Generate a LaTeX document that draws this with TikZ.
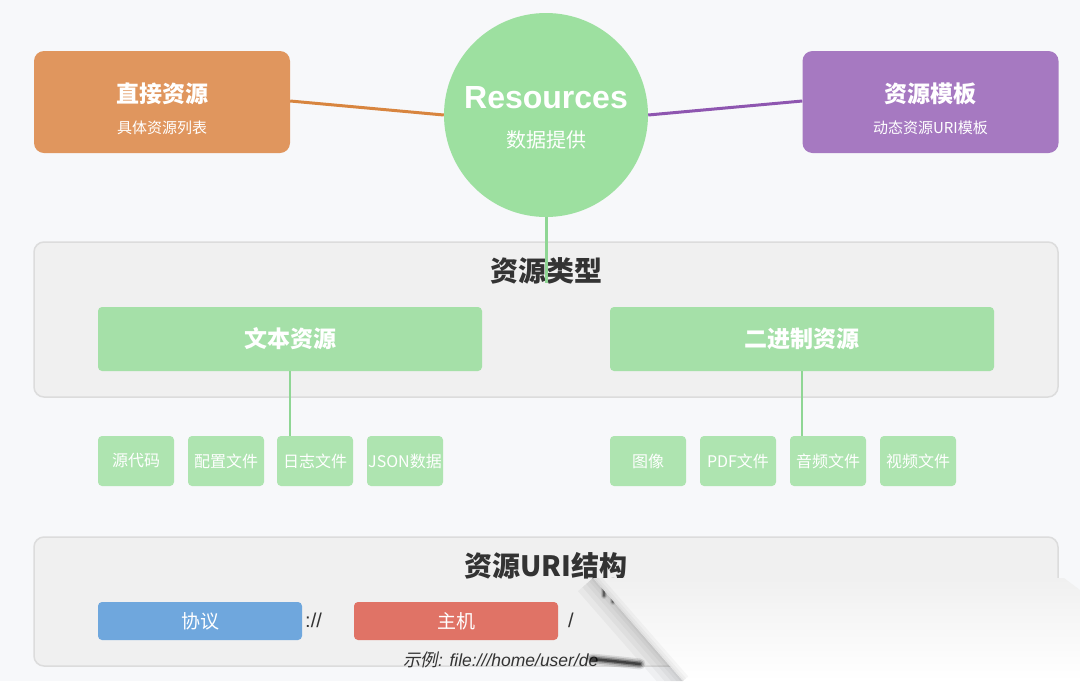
\documentclass[tikz,border=0pt]{standalone}
\usepackage{fontspec}
\setmainfont{Noto Sans CJK SC}
\newfontfamily\lat{Liberation Sans}
\newfontfamily\cjkit[FakeSlant=0.2]{Noto Sans CJK SC}
\usetikzlibrary{calc}
\definecolor{bg}{HTML}{F7F8FA}
\definecolor{orangebox}{HTML}{E0965E}
\definecolor{orangeline}{HTML}{D8853F}
\definecolor{purplebox}{HTML}{A679C1}
\definecolor{purpleline}{HTML}{8E56B0}
\definecolor{circgreen}{HTML}{9DE0A0}
\definecolor{midgreen}{HTML}{A5E0A8}
\definecolor{smallgreen}{HTML}{AEE4B0}
\definecolor{greenline}{HTML}{8FD694}
\definecolor{panelfill}{HTML}{F0F0F0}
\definecolor{panelline}{HTML}{DCDCDC}
\definecolor{darktext}{HTML}{333333}
\definecolor{bluebox}{HTML}{6FA7DD}
\definecolor{redbox}{HTML}{E07366}
\tikzset{
  topbox/.style={rounded corners=10pt, minimum width=256pt, minimum height=102pt, inner sep=0pt},
  panelbox/.style={rounded corners=10pt, fill=panelfill, draw=panelline, line width=1.5pt},
  typebox/.style={fill=midgreen, rounded corners=4pt, minimum width=384pt, minimum height=64pt, inner sep=0pt, text=white, font=\bfseries\fontsize{23}{27}\selectfont},
  itembox/.style={fill=smallgreen, rounded corners=4pt, minimum width=76pt, minimum height=50pt, inner sep=0pt, text=white, font=\fontsize{16}{19}\selectfont},
  uribox/.style={rounded corners=4pt, minimum width=204pt, minimum height=38pt, inner sep=0pt, text=white, font=\fontsize{19}{22}\selectfont},
  title/.style={text=white, font=\bfseries\fontsize{23}{27}\selectfont},
  subtitle/.style={text=white, font=\fontsize{15}{18}\selectfont},
  ptitle/.style={text=darktext, font=\bfseries\fontsize{28}{32}\selectfont},
  link/.style={line width=3pt}
}
\begin{document}
\begin{tikzpicture}[x=1pt,y=-1pt]
\fill[bg] (0,0) rectangle (1080,681);
\useasboundingbox (0,0) rectangle (1080,681);

% panels
\draw[panelbox] (34,242) rectangle (1058,397);
\draw[panelbox] (34,537) rectangle (1058,666);

% top boxes
\node[topbox, fill=orangebox] (direct) at (162,102) {};
\node[title] at (162,94) {直接资源};
\node[subtitle] at (162,128) {具体资源列表};
\node[topbox, fill=purplebox] (tmpl) at (930.5,102) {};
\node[title] at (930.5,94) {资源模板};
\node[subtitle] at (930.5,128) {动态资源URI模板};

% circle
\node[circle, fill=circgreen, minimum size=204pt, inner sep=0pt] (res) at (546,115) {};
\node[text=white, font=\lat\bfseries\fontsize{32}{36}\selectfont] at (546,98) {Resources};
\node[text=white, font=\fontsize{20}{24}\selectfont] at (546,140) {数据提供};

\draw[link, orangeline] (direct.east |- 0,101) -- (res.west);
\draw[link, purpleline] (res.east) -- (tmpl.west |- 0,101);

% panel 1
\node[ptitle] (pt1) at (546,271) {资源类型};
\coordinate (resend) at (546,283);
\draw[line width=3pt, greenline] (res.south) -- (resend);

\node[typebox] (text) at (290,339) {文本资源};
\node[typebox] (bin) at (802,339) {二进制资源};

\node[itembox] (t1) at (136,461) {源代码};
\node[itembox] (t2) at (226,461) {配置文件};
\node[itembox] (t3) at (315,461) {日志文件};
\node[itembox] (t4) at (405,461) {JSON数据};
\node[itembox] (b1) at (648,461) {图像};
\node[itembox] (b2) at (738,461) {PDF文件};
\node[itembox] (b3) at (828,461) {音频文件};
\node[itembox] (b4) at (918,461) {视频文件};

\draw[line width=2pt, greenline] (text.south) -- (text.south |- t3.north);
\draw[line width=2pt, greenline] (bin.south) -- (bin.south |- b3.north);

% panel 2
\node[ptitle] (pt2) at (546,566) {资源URI结构};
\node[uribox, fill=bluebox] (proto) at (200,621) {协议};
\node[text=darktext, font=\lat\fontsize{20}{24}\selectfont, anchor=west, inner sep=0pt] (sep1) at (305,620) {://};
\node[uribox, fill=redbox] (host) at (456,621) {主机};
\node[text=darktext, font=\lat\fontsize{20}{24}\selectfont, anchor=west, inner sep=0pt] (sep2) at (568,620) {/};
\node[text=darktext, anchor=west, inner sep=0pt] (ex) at (403,660) {{\cjkit\fontsize{17.5}{20}\selectfont 示例}{\lat\itshape\fontsize{17.5}{20}\selectfont : file:///home/user/de}};

% page curl overlay
% shadow on the lower-left side of the fold
\begin{scope}
  \clip (560,578) -- (593,578) -- (683,681) -- (560,681) -- cycle;
  \foreach \w in {40,28,18,10,4}{
    \draw[black, opacity=0.035, line width=\w pt] (593,578) -- (683,681);
  }
\end{scope}
% text smears
\foreach \o/\w in {0.1/11, 0.18/8, 0.3/5, 0.45/2.5}{
  \draw[black, opacity=\o, line width=\w pt, line cap=round] (592,659) -- (612,661) -- (640,664);
}
\foreach \x/\l in {604/596, 613/602, 623/608}{
  \foreach \o/\w in {0.1/6, 0.2/3.5, 0.35/1.5}{
    \draw[black, opacity=\o, line width=\w pt, line cap=round] (\x,580) -- (\x,\l);
  }
}
% flap
\shade[top color=panelfill, bottom color=white] (593,578) -- (1064,578) -- (1080,590) -- (1080,681) -- (683,681) -- cycle;
\begin{scope}
  \clip (593,578) -- (1080,578) -- (1080,681) -- (683,681) -- cycle;
  \foreach \w in {14,8,3}{
    \draw[black, opacity=0.03, line width=\w pt] (593,578) -- (683,681);
  }
\end{scope}
\end{tikzpicture}
\end{document}
